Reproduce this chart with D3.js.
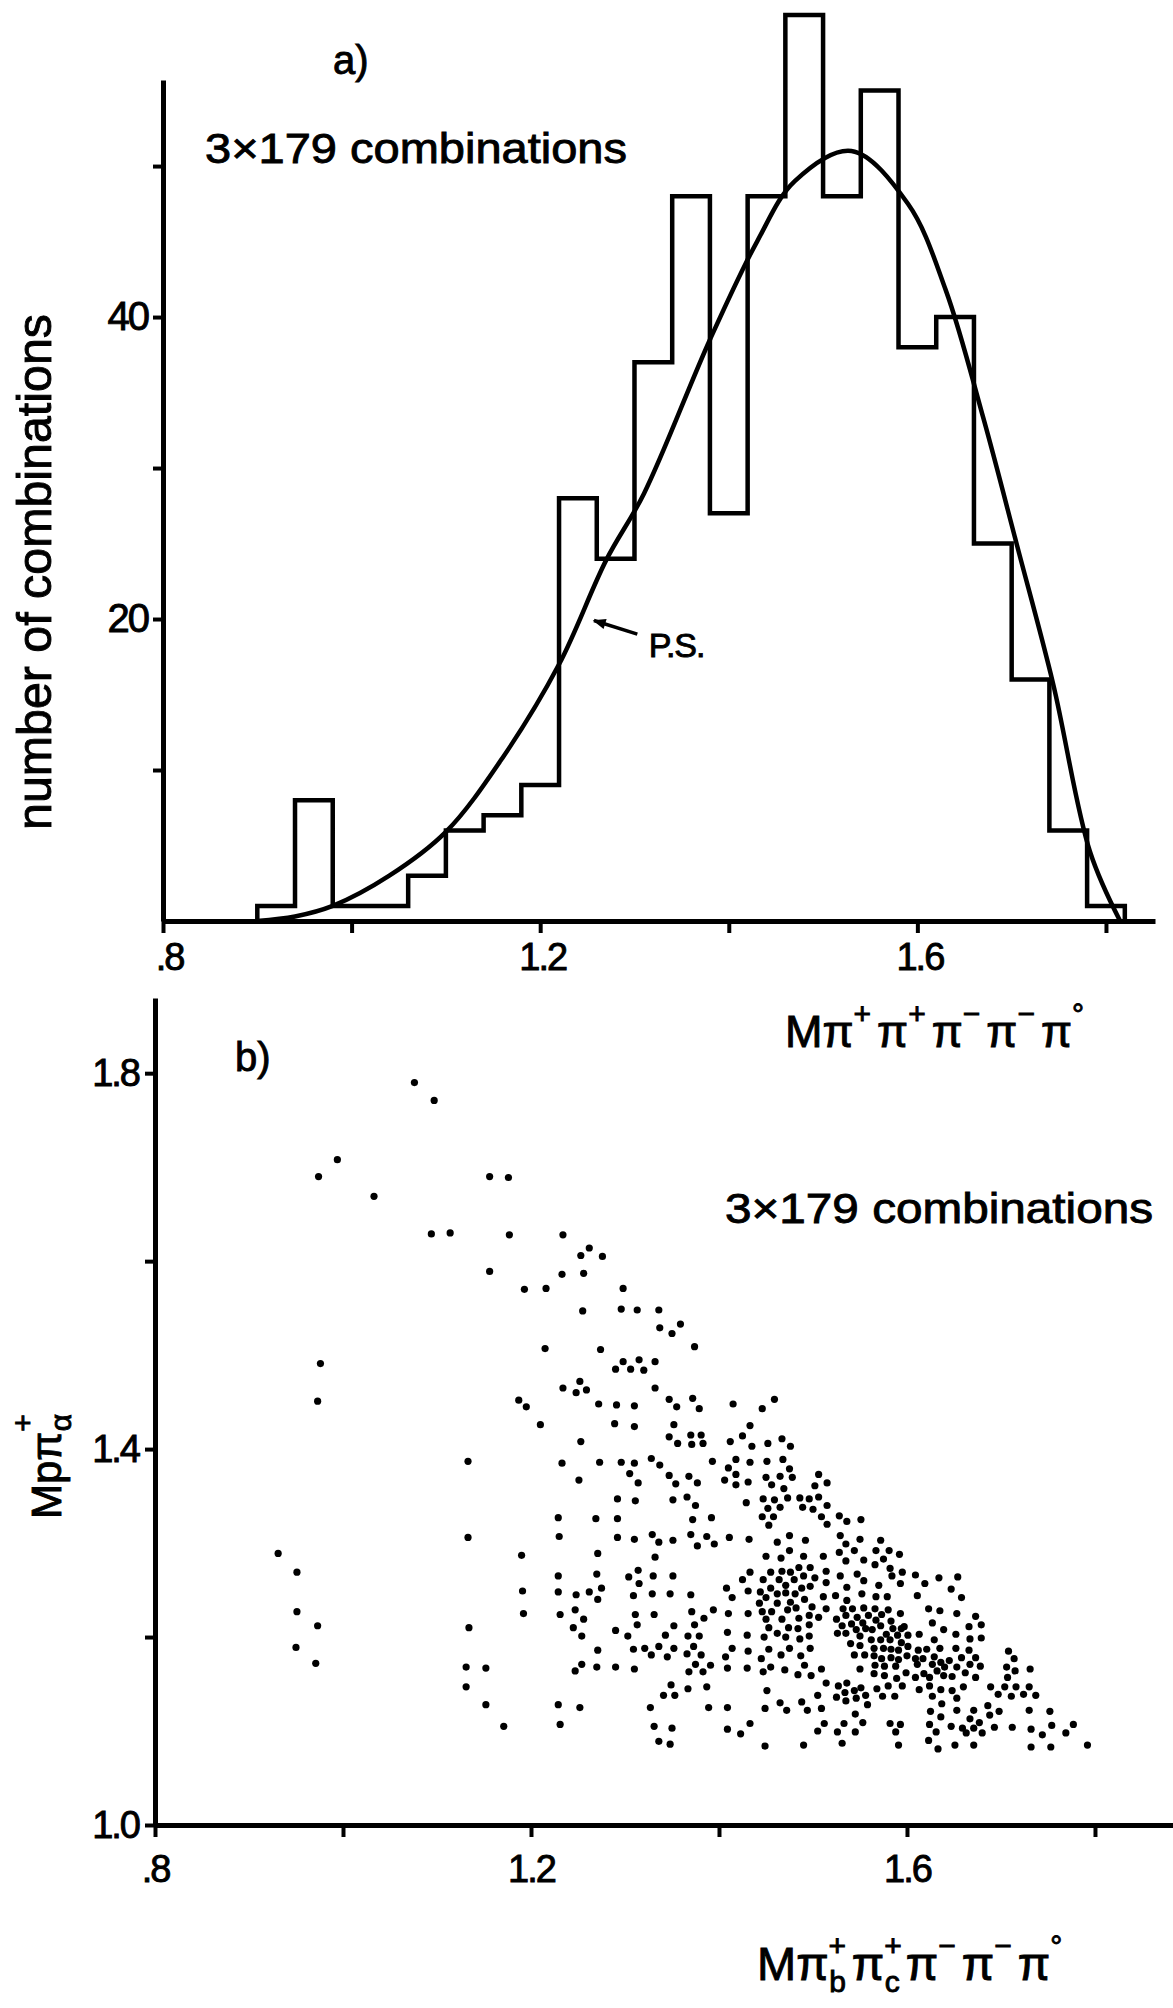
<!DOCTYPE html>
<html lang="en">
<head>
<meta charset="UTF-8">
<title>3x179 combinations</title>
<script src="https://d3js.org/d3.v7.min.js"></script>
<style>
  body { margin: 0; background: #fff; }
  svg { display: block; }
  text { font-family: "Liberation Sans", Arial, sans-serif; fill: #000; stroke: #000; stroke-width: 0.9px; }
</style>
</head>
<body>
<svg width="1173" height="2008"></svg>
<script>
// ---- a) histogram of M(pi+ pi+ pi- pi- pi0), 0.04 bins
const binLeft = [0.90, 0.94, 0.98, 1.02, 1.06, 1.10, 1.14, 1.18, 1.22, 1.26, 1.30, 1.34,
                 1.38, 1.42, 1.46, 1.50, 1.54, 1.58, 1.62, 1.66, 1.70, 1.74, 1.78];
const binRight = 1.82;
const binCounts = [1, 8, 1, 1, 3, 6, 7, 9, 28, 24, 37, 48, 27, 48, 60, 48, 55, 38, 40, 25, 16, 6, 1];

// phase space curve (P.S.)
const psX = [0.90, 0.94, 0.98, 1.04, 1.10, 1.16, 1.22, 1.27, 1.31, 1.38, 1.43, 1.47, 1.53,
             1.59, 1.63, 1.67, 1.706, 1.744, 1.783, 1.815];
const psY = [0, 0.3, 1.0, 3.0, 5.9, 10.8, 17, 23.9, 28.3, 38.5, 45, 49, 51,
             47.5, 41.8, 33.3, 24.8, 15.7, 4.6, 0];

const xTicksA = [0.8, 1.0, 1.2, 1.4, 1.6, 1.8];
const xLabelsA = [0.8, 1.2, 1.6];
const yTicksA = [10, 20, 30, 40, 50];
const yLabelsA = [20, 40];

// ---- b) scatter M(p pi+a) vs M(pi+b pi+c pi- pi- pi0)
const xTicksB = [0.8, 1.0, 1.2, 1.4, 1.6, 1.8];
const xLabelsB = [0.8, 1.2, 1.6];
const yTicksB = [1.0, 1.2, 1.4, 1.6, 1.8];
const yLabelsB = [1.0, 1.4, 1.8];

const dalitzPoints = [
  // upper left, sparse
  [1.076,1.790],[1.097,1.771],[0.994,1.708],[0.974,1.690],[1.033,1.669],[1.156,1.690],[1.176,1.689],
  [1.094,1.629],[1.114,1.630],[1.177,1.628],[1.234,1.628],[1.262,1.614],[1.253,1.606],[1.276,1.605],
  [1.156,1.589],[1.233,1.586],[1.256,1.587],[1.193,1.570],[1.216,1.571],[1.298,1.571],
  [0.976,1.491],[0.973,1.451],[1.187,1.452],[1.133,1.387],[1.133,1.306],[0.931,1.289],[0.951,1.269],
  [0.951,1.227],[0.973,1.212],[0.950,1.189],[0.971,1.172],[1.134,1.210],[1.131,1.168],[1.152,1.167],
  [1.131,1.147],[1.152,1.128],[1.171,1.105],
  // middle upper
  [1.255,1.547],[1.296,1.549],[1.313,1.548],[1.336,1.548],[1.337,1.529],[1.350,1.523],[1.359,1.533],
  [1.215,1.507],[1.274,1.506],[1.374,1.509],[1.290,1.485],[1.298,1.493],[1.306,1.485],[1.315,1.495],
  [1.320,1.484],[1.332,1.493],[1.234,1.465],[1.248,1.460],[1.252,1.472],[1.259,1.463],[1.332,1.465],
  [1.195,1.445],[1.272,1.448],[1.291,1.447],[1.310,1.446],[1.347,1.453],[1.355,1.445],[1.372,1.454],
  [1.379,1.443],[1.415,1.448],[1.446,1.443],[1.459,1.453],[1.210,1.426],[1.289,1.427],[1.310,1.424],
  [1.352,1.426],[1.433,1.425],[1.253,1.408],[1.347,1.413],[1.356,1.406],[1.370,1.415],[1.371,1.405],
  [1.381,1.415],[1.383,1.406],[1.412,1.408],[1.425,1.414],[1.435,1.403],[1.452,1.406],[1.467,1.411],
  [1.476,1.403],[1.233,1.385],[1.273,1.386],[1.296,1.386],[1.310,1.385],[1.328,1.390],[1.337,1.383],
  [1.393,1.387],[1.418,1.389],[1.433,1.386],[1.451,1.387],[1.468,1.389],[1.305,1.374],[1.314,1.364],
  [1.347,1.372],[1.354,1.363],[1.368,1.371],[1.377,1.364],[1.406,1.367],[1.410,1.380],[1.418,1.373],
  [1.418,1.362],[1.431,1.365],[1.450,1.370],[1.456,1.362],[1.465,1.371],[1.469,1.358],[1.475,1.379],
  [1.478,1.370],[1.506,1.373],[1.502,1.361],[1.515,1.364],[1.251,1.367],[1.292,1.347],[1.311,1.345],
  [1.351,1.346],[1.366,1.349],[1.375,1.340],[1.429,1.343],[1.447,1.347],[1.452,1.337],[1.459,1.346],
  [1.465,1.338],[1.473,1.348],[1.486,1.348],[1.489,1.338],[1.496,1.347],[1.500,1.336],[1.506,1.349],
  [1.515,1.340],[1.229,1.327],[1.269,1.326],[1.292,1.326],[1.372,1.325],[1.392,1.327],[1.446,1.328],
  [1.453,1.319],[1.458,1.328],[1.509,1.328],[1.515,1.320],
  [1.528,1.329],[1.536,1.323],[1.551,1.325],
  // middle lower
  [1.230,1.307],[1.292,1.306],[1.310,1.304],[1.329,1.309],[1.336,1.301],[1.351,1.303],[1.370,1.309],
  [1.377,1.297],[1.387,1.307],[1.395,1.299],[1.411,1.306],[1.432,1.304],[1.462,1.301],[1.475,1.308],
  [1.492,1.303],[1.190,1.287],[1.271,1.289],[1.332,1.285],[1.450,1.286],[1.466,1.284],[1.475,1.292],
  [1.490,1.286],[1.511,1.286],[1.229,1.265],[1.270,1.267],[1.304,1.264],[1.314,1.271],[1.315,1.257],
  [1.330,1.265],[1.351,1.265],[1.425,1.261],[1.433,1.269],[1.447,1.261],[1.455,1.269],[1.464,1.261],
  [1.467,1.270],[1.471,1.255],[1.476,1.269],[1.480,1.261],[1.485,1.274],[1.490,1.265],[1.497,1.274],
  [1.502,1.263],[1.514,1.270],[1.514,1.258],[1.191,1.249],[1.229,1.248],[1.248,1.245],[1.262,1.248],
  [1.271,1.240],[1.275,1.252],[1.309,1.244],[1.329,1.246],[1.348,1.246],[1.370,1.245],[1.408,1.252],
  [1.414,1.242],[1.431,1.249],[1.444,1.248],[1.450,1.242],[1.455,1.252],[1.462,1.246],[1.471,1.247],
  [1.476,1.237],[1.481,1.246],[1.488,1.252],[1.491,1.240],[1.497,1.254],[1.511,1.243],[1.192,1.225],
  [1.231,1.224],[1.247,1.229],[1.256,1.219],[1.311,1.224],[1.331,1.224],[1.371,1.227],[1.384,1.220],
  [1.394,1.229],[1.410,1.225],[1.431,1.225],[1.443,1.236],[1.446,1.227],[1.450,1.219],[1.456,1.227],
  [1.462,1.236],[1.467,1.219],[1.473,1.229],[1.482,1.231],[1.485,1.220],[1.496,1.223],[1.499,1.232],
  [1.506,1.221],[1.514,1.230],[1.245,1.210],[1.254,1.201],[1.290,1.207],[1.303,1.201],[1.313,1.213],
  [1.343,1.202],[1.352,1.212],[1.367,1.201],[1.374,1.213],[1.379,1.201],[1.409,1.205],[1.430,1.202],
  [1.448,1.200],[1.453,1.210],[1.462,1.204],[1.471,1.200],[1.474,1.210],[1.484,1.209],[1.486,1.198],
  [1.496,1.213],[1.496,1.201],[1.271,1.186],[1.309,1.187],[1.321,1.188],[1.328,1.181],[1.336,1.190],
  [1.345,1.179],[1.352,1.188],[1.366,1.182],[1.373,1.190],[1.381,1.181],[1.407,1.179],[1.414,1.188],
  [1.431,1.185],[1.445,1.177],[1.453,1.187],[1.466,1.181],[1.475,1.188],[1.487,1.180],[1.497,1.188],
  [1.247,1.164],[1.254,1.171],[1.270,1.168],[1.290,1.168],[1.310,1.166],[1.368,1.163],[1.375,1.171],
  [1.383,1.163],[1.391,1.170],[1.409,1.167],[1.430,1.167],[1.447,1.163],[1.455,1.168],[1.470,1.165],
  [1.484,1.160],[1.491,1.170],[1.498,1.159],[1.509,1.166],[1.341,1.138],[1.349,1.149],[1.353,1.138],
  [1.367,1.145],[1.387,1.147],[1.451,1.143],[1.505,1.138],[1.514,1.151],[1.229,1.128],[1.252,1.125],
  [1.327,1.125],[1.389,1.125],[1.409,1.125],[1.449,1.124],[1.465,1.130],[1.472,1.122],[1.488,1.131],
  [1.494,1.122],[1.509,1.124],[1.231,1.107],[1.331,1.105],[1.350,1.103],[1.409,1.102],[1.423,1.097],
  [1.433,1.108],[1.505,1.100],[1.512,1.108],[1.336,1.089],[1.348,1.086],[1.449,1.084],[1.490,1.085],
  // right, dense
  [1.529,1.308],[1.535,1.299],[1.550,1.304],[1.572,1.303],[1.528,1.290],[1.544,1.292],[1.567,1.292],
  [1.581,1.292],[1.592,1.288],[1.535,1.281],[1.554,1.282],[1.566,1.277],[1.575,1.283],[1.582,1.273],
  [1.595,1.269],[1.584,1.265],[1.529,1.265],[1.547,1.267],[1.554,1.260],[1.570,1.255],[1.593,1.257],
  [1.609,1.266],[1.619,1.257],[1.634,1.263],[1.654,1.264],[1.647,1.251],[1.536,1.253],[1.524,1.244],
  [1.536,1.239],[1.552,1.246],[1.567,1.243],[1.579,1.243],[1.611,1.244],[1.658,1.242],[1.532,1.230],
  [1.542,1.230],[1.554,1.231],[1.566,1.230],[1.580,1.229],[1.593,1.225],[1.623,1.230],[1.635,1.228],
  [1.653,1.225],[1.673,1.222],[1.525,1.219],[1.535,1.223],[1.547,1.221],[1.559,1.223],[1.573,1.224],
  [1.567,1.218],[1.531,1.212],[1.541,1.214],[1.553,1.215],[1.563,1.208],[1.572,1.212],[1.583,1.217],
  [1.594,1.209],[1.546,1.208],[1.556,1.209],[1.526,1.204],[1.535,1.204],[1.550,1.201],[1.562,1.197],
  [1.578,1.203],[1.585,1.209],[1.590,1.202],[1.597,1.211],[1.601,1.202],[1.627,1.215],[1.639,1.208],
  [1.613,1.203],[1.652,1.203],[1.666,1.211],[1.679,1.213],[1.540,1.193],[1.550,1.191],[1.572,1.197],
  [1.582,1.197],[1.594,1.194],[1.629,1.197],[1.652,1.188],[1.667,1.198],[1.679,1.199],[1.565,1.188],
  [1.575,1.188],[1.583,1.187],[1.591,1.186],[1.601,1.190],[1.612,1.186],[1.621,1.187],[1.635,1.188],
  [1.666,1.186],[1.708,1.185],[1.544,1.181],[1.555,1.181],[1.565,1.180],[1.573,1.177],[1.583,1.178],
  [1.591,1.176],[1.600,1.180],[1.609,1.177],[1.617,1.177],[1.629,1.179],[1.636,1.173],[1.645,1.175],
  [1.658,1.178],[1.673,1.178],[1.714,1.177],[1.550,1.166],[1.566,1.170],[1.576,1.169],[1.588,1.169],
  [1.611,1.171],[1.627,1.171],[1.640,1.168],[1.653,1.168],[1.667,1.171],[1.678,1.169],[1.706,1.168],
  [1.715,1.164],[1.731,1.166],[1.565,1.161],[1.576,1.159],[1.589,1.156],[1.599,1.162],[1.609,1.157],
  [1.618,1.161],[1.624,1.157],[1.632,1.164],[1.639,1.159],[1.648,1.158],[1.662,1.162],[1.673,1.157],
  [1.707,1.157],[1.527,1.148],[1.536,1.151],[1.551,1.146],[1.568,1.145],[1.580,1.148],[1.595,1.148],
  [1.613,1.144],[1.624,1.148],[1.636,1.144],[1.648,1.143],[1.660,1.147],[1.689,1.147],[1.704,1.147],
  [1.716,1.147],[1.730,1.147],[1.534,1.141],[1.544,1.143],[1.525,1.136],[1.546,1.135],[1.556,1.138],
  [1.574,1.137],[1.587,1.137],[1.627,1.137],[1.653,1.135],[1.697,1.139],[1.711,1.137],[1.724,1.139],
  [1.737,1.138],[1.535,1.132],[1.558,1.128],[1.637,1.129],[1.686,1.127],[1.545,1.118],[1.625,1.121],
  [1.636,1.115],[1.653,1.122],[1.671,1.122],[1.688,1.117],[1.698,1.121],[1.730,1.122],[1.752,1.121],
  [1.533,1.108],[1.553,1.109],[1.582,1.108],[1.593,1.107],[1.624,1.107],[1.647,1.105],[1.667,1.113],
  [1.677,1.109],[1.693,1.104],[1.712,1.104],[1.732,1.102],[1.754,1.106],[1.777,1.107],[1.526,1.099],
  [1.545,1.099],[1.588,1.099],[1.631,1.099],[1.659,1.103],[1.663,1.098],[1.671,1.103],[1.680,1.098],
  [1.744,1.096],[1.769,1.098],[1.531,1.087],[1.591,1.085],[1.623,1.090],[1.633,1.081],[1.651,1.085],
  [1.671,1.085],[1.732,1.083],[1.753,1.083],[1.792,1.085]
];

const chargesA = ["+", "+", "\u2212", "\u2212", "\u00b0"];
const chargesB = ["+", "+", "\u2212", "\u2212", "\u00b0"];
const subsB = ["b", "c", "", "", ""];

const svg = d3.select("svg");
svg.append("rect").attr("width", 1173).attr("height", 2008).attr("fill", "#fff");

const tickFont = '"Liberation Sans Narrow", "Liberation Sans", sans-serif';
const fmtTick = d => d < 1 ? ".8" : d3.format(".1f")(d);

function styleAxis(g, size) {
  g.attr("font-family", tickFont).attr("font-size", size);
  g.select(".domain").attr("stroke", "#000").attr("stroke-width", 5);
  g.selectAll(".tick line").attr("stroke", "#000").attr("stroke-width", 4);
  g.selectAll(".tick text").attr("fill", "#000").attr("letter-spacing", -2);
}

// ================= a) =================
const xA = d3.scaleLinear().domain([0.8, 1.852]).range([163, 1155]);
const yA = d3.scaleLinear().domain([0, 55.7]).range([921, 80]);
const gA = svg.append("g");

const histPts = [[binLeft[0], 0]];
binLeft.forEach((x, i) => histPts.push([x, binCounts[i]]));
histPts.push([binRight, binCounts[binCounts.length - 1]], [binRight, 0]);

gA.append("path")
  .attr("d", d3.line().x(d => xA(d[0])).y(d => yA(d[1])).curve(d3.curveStepAfter)(histPts))
  .attr("fill", "none").attr("stroke", "#000").attr("stroke-width", 4.5);

gA.append("path")
  .attr("d", d3.line().x(d => xA(d[0])).y(d => yA(d[1])).curve(d3.curveCatmullRom)(psX.map((x, i) => [x, psY[i]])))
  .attr("fill", "none").attr("stroke", "#000").attr("stroke-width", 4.5);

gA.append("g").attr("transform", "translate(0,921)")
  .call(d3.axisBottom(xA).tickValues(xTicksA).tickSize(12).tickSizeOuter(0).tickPadding(10)
    .tickFormat(d => xLabelsA.includes(d) ? fmtTick(d) : ""))
  .call(g => styleAxis(g, 38))
  .call(g => g.selectAll(".tick text").attr("dx", d => d < 1 ? 6 : 2));

gA.append("g").attr("transform", "translate(163,0)")
  .call(d3.axisLeft(yA).tickValues(yTicksA).tickSize(10).tickSizeOuter(0).tickPadding(5)
    .tickFormat(d => yLabelsA.includes(d) ? d : ""))
  .call(g => styleAxis(g, 40));

// arrow to P.S. curve
svg.append("defs").append("marker")
  .attr("id", "arrow").attr("viewBox", "0 0 10 10").attr("refX", 9).attr("refY", 5)
  .attr("markerUnits", "userSpaceOnUse").attr("markerWidth", 18).attr("markerHeight", 13)
  .attr("orient", "auto")
  .append("path").attr("d", "M0,1 L10,5 L0,9 Z").attr("fill", "#000");

gA.append("line")
  .attr("x1", xA(1.303)).attr("y1", yA(19.0)).attr("x2", xA(1.257)).attr("y2", yA(19.9))
  .attr("stroke", "#000").attr("stroke-width", 3.5).attr("marker-end", "url(#arrow)");
gA.append("text").attr("x", xA(1.315)).attr("y", yA(17.5)).attr("font-size", 34)
  .attr("letter-spacing", -1).text("P.S.");

svg.append("text").attr("x", 333).attr("y", 74).attr("font-size", 40).text("a)");
svg.append("text").attr("x", 205).attr("y", 163).attr("font-size", 43)
  .attr("textLength", 422).attr("lengthAdjust", "spacingAndGlyphs").text("3\u00d7179 combinations");

svg.append("text").attr("transform", "translate(51,572) rotate(-90)")
  .attr("text-anchor", "middle").attr("font-size", 48)
  .attr("textLength", 516).attr("lengthAdjust", "spacingAndGlyphs").text("number of combinations");

const labA = svg.append("text").attr("x", 785).attr("y", 1047).attr("font-size", 45);
labA.append("tspan").text("M");
chargesA.forEach(c => {
  labA.append("tspan").text("\u03c0");
  labA.append("tspan").attr("dy", -23).attr("font-size", 30).text(c);
  labA.append("tspan").attr("dy", 23).attr("font-size", 30).text("\u2009");
});

// ================= b) =================
const xB = d3.scaleLinear().domain([0.8, 1.883]).range([155, 1173]);
const yB = d3.scaleLinear().domain([1.0, 1.88]).range([1825, 998]);
const gB = svg.append("g");

gB.selectAll("circle").data(dalitzPoints).join("circle")
  .attr("cx", d => xB(d[0])).attr("cy", d => yB(d[1])).attr("r", 3.6).attr("fill", "#000");

gB.append("g").attr("transform", "translate(0,1825)")
  .call(d3.axisBottom(xB).tickValues(xTicksB).tickSize(12).tickSizeOuter(0).tickPadding(18)
    .tickFormat(d => xLabelsB.includes(d) ? fmtTick(d) : ""))
  .call(g => styleAxis(g, 38));

gB.append("g").attr("transform", "translate(155,0)")
  .call(d3.axisLeft(yB).tickValues(yTicksB).tickSize(10).tickSizeOuter(0).tickPadding(6)
    .tickFormat(d => yLabelsB.includes(d) ? d3.format(".1f")(d) : ""))
  .call(g => styleAxis(g, 38));

svg.append("text").attr("x", 235).attr("y", 1071).attr("font-size", 40).text("b)");
svg.append("text").attr("x", 725).attr("y", 1223).attr("font-size", 43)
  .attr("textLength", 428).attr("lengthAdjust", "spacingAndGlyphs").text("3\u00d7179 combinations");

const labYB = svg.append("text").attr("transform", "translate(61,1519) rotate(-90)").attr("font-size", 42);
labYB.append("tspan").text("Mp\u03c0");
labYB.append("tspan").attr("dy", -28).attr("font-size", 30).text("+");
labYB.append("tspan").attr("dx", -17).attr("dy", 38).attr("font-size", 30).text("\u03b1");

const labB = svg.append("text").attr("x", 757).attr("y", 1980).attr("font-size", 47);
labB.append("tspan").text("M");
chargesB.forEach((c, i) => {
  labB.append("tspan").text("\u03c0");
  labB.append("tspan").attr("dy", -24).attr("font-size", 30).text(c);
  if (subsB[i]) {
    labB.append("tspan").attr("dx", -17).attr("dy", 36).attr("font-size", 30).text(subsB[i]);
    labB.append("tspan").attr("dy", -12).attr("font-size", 30).text("\u2009");
  } else {
    labB.append("tspan").attr("dy", 24).attr("font-size", 30).text("\u2009");
  }
});
</script>
</body>
</html>
